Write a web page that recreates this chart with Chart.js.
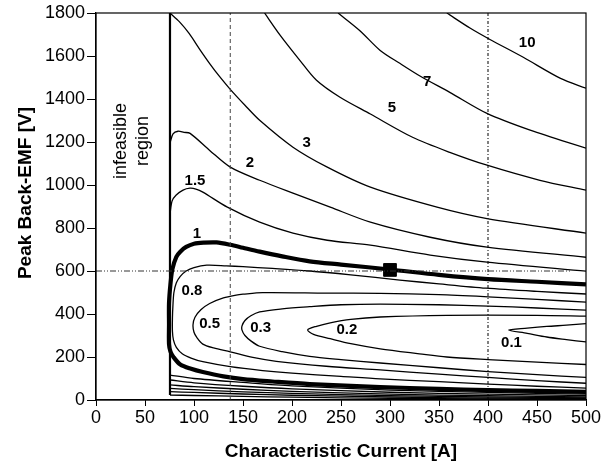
<!DOCTYPE html>
<html>
<head>
<meta charset="utf-8">
<script src="https://cdn.jsdelivr.net/npm/chart.js@4.4.1/dist/chart.umd.min.js"></script>
<style>
html, body { margin: 0; padding: 0; background: #fff; }
</style>
</head>
<body>
<canvas id="chart" width="613" height="468"></canvas>
<script>
// axis ticks
var currentTicks = [0, 50, 100, 150, 200, 250, 300, 350, 400, 450, 500];
var voltageTicks = [0, 200, 400, 600, 800, 1000, 1200, 1400, 1600, 1800];

// feasibility limit, reference lines and design point
var limitCurrent = 75.5;
var limitVoltage = [23, 1800];
var refCurrents = [137, 400];
var refVoltage = 600;
var refVoltageEnd = 485;
var designPoint = [300, 605];

// contours [current, voltage]
var c10 = [[358,1800],[382,1729],[402,1677],[436,1594],[474,1496],[500,1450]];
var c7 = [[247,1800],[269,1719],[290,1626],[310,1566],[331,1506],[361,1431],[399,1333],[443,1255],[500,1171]];
var c5 = [[172,1800],[188,1696],[208,1580],[225,1487],[249,1408],[280,1330],[323,1222],[361,1152],[399,1092],[453,1022],[500,976]];
var c3 = [[75.5,1800],[85,1760],[95,1705],[106,1630],[116,1565],[126,1505],[137,1445],[152,1371],[167,1301],[201,1176],[236,1083],[280,990],[348,897],[399,844],[500,776]];
var c2 = [[75.5,1195],[78.6,1238],[83.7,1250],[89.8,1245],[96,1240],[116,1161],[137,1083],[167,1022],[201,962],[239,897],[280,827],[341,757],[399,711],[500,664]];
var c15 = [[75.5,865],[77.6,925],[81.6,952],[88.8,976],[95.9,985],[102,981],[109,967],[134,897],[167,827],[201,776],[236,743],[280,720],[341,674],[399,641],[500,599]];
var c1 = [[500,538],[450,550],[400,562],[350,582],[300,607],[250,630],[218,645],[190,668],[167,690],[150,708],[137,722],[123,733],[110,732],[100,727],[92,712],[86,690],[82,666],[78,610],[76,540],[74.5,450],[74.5,350],[74.5,260],[76,225],[79,200],[86,165],[97,145],[109,130],[130,110],[150,97],[180,86],[218,74],[290,60],[350,52],[400,46],[450,42],[500,38]];
var c08 = [[500,493],[450,505],[398,520],[350,540],[310,558],[260,582],[218,600],[180,612],[150,620],[133,624],[113,627],[100,616],[92,600],[86,575],[82,545],[79.5,500],[78.5,440],[78,380],[78,320],[79,280],[82,245],[88,215],[97,195],[109,178],[137,155],[170,137],[200,125],[250,110],[290,98],[350,85],[400,74],[450,64],[500,55]];
var c05 = [[500,455],[450,468],[400,480],[350,490],[290,496],[235,497],[170,499],[150,492],[143,488],[130,475],[116,449],[107,420],[101,385],[99,350],[100,315],[103,290],[109,260],[120,242],[137,224],[160,198],[184,180],[235,157],[290,140],[350,120],[400,105],[450,90],[500,78]];
var c03 = [[500,418],[450,428],[400,437],[350,443],[290,446],[250,443],[218,434],[190,424],[167,410],[158,392],[152,370],[149,345],[149,325],[152,300],[158,275],[167,250],[190,225],[218,203],[250,188],[290,172],[350,150],[400,132],[450,118],[500,105]];
var c02 = [[500,390],[450,394],[358,394],[290,386],[260,375],[239,359],[225,343],[216,326],[222,305],[239,285],[260,262],[290,238],[330,215],[358,200],[400,188],[450,176],[500,165]];
var c01 = [[500,355],[480,348],[460,342],[440,334],[421,325],[440,310],[460,293],[480,281],[500,270]];

// lower branches that leave the feasibility limit
var c15low = [[75.5,116],[100,100],[150,82],[200,66],[300,46],[400,35],[500,27]];
var c2low = [[75.5,93],[100,80],[150,64],[200,52],[300,36],[400,27],[500,20]];
var c3low = [[75.5,70],[100,62],[150,50],[200,40],[300,27],[400,20],[500,14]];
var c5low = [[75.5,54],[100,48],[150,38],[200,31],[300,20],[400,14],[500,10]];
var c7low = [[75.5,39],[100,35],[150,28],[200,22],[300,14],[400,9],[500,6]];
var c10low = [[75.5,23],[100,21],[150,17],[200,13],[300,8],[400,5],[500,3]];

// contour labels
var labelText = ['10', '7', '5', '3', '2', '1.5', '1', '0.8', '0.5', '0.3', '0.2', '0.1'];
var labelX = [440, 338, 302, 215, 157, 101, 103, 98, 116, 168, 256, 424];
var labelY = [1660, 1478, 1357, 1194, 1101, 1018, 771, 507, 353, 335, 325, 265];

var FONT = '"Liberation Sans", Arial, sans-serif';

function pts(arr) {
    return arr.map(function(p) { return {x: p[0], y: p[1]}; });
}

function contour(arr, w) {
    return {
        data: pts(arr),
        showLine: true,
        borderColor: '#000',
        borderWidth: w || 1.3,
        pointRadius: 0,
        tension: 0.3,
        fill: false
    };
}

function straight(arr, w, dash, color) {
    return {
        data: pts(arr),
        showLine: true,
        borderColor: color || '#000',
        borderWidth: w,
        borderDash: dash,
        pointRadius: 0,
        tension: 0,
        fill: false
    };
}

var datasets = [
    straight([[refCurrents[0], 0], [refCurrents[0], 1800]], 1, [4, 3], '#444'),
    straight([[refCurrents[1], 0], [refCurrents[1], 1800]], 1, [3, 2, 1, 2]),
    straight([[0, refVoltage], [refVoltageEnd, refVoltage]], 1, [6, 2, 1, 2, 1, 2], '#333'),
    straight([[limitCurrent, limitVoltage[0]], [limitCurrent, limitVoltage[1]]], 2.2, []),
    contour(c10), contour(c7), contour(c5), contour(c3), contour(c2), contour(c15),
    contour(c1, 4.2), contour(c08), contour(c05), contour(c03), contour(c02), contour(c01),
    contour(c15low), contour(c2low), contour(c3low), contour(c5low), contour(c7low), contour(c10low),
    {
        data: [{x: designPoint[0], y: designPoint[1]}],
        showLine: false,
        pointStyle: 'rect',
        pointRadius: 9,
        backgroundColor: '#000',
        borderColor: '#000'
    }
];

var decorPlugin = {
    id: 'decor',
    afterDatasetsDraw: function(chart) {
        var ctx = chart.ctx;
        var xs = chart.scales.x, ys = chart.scales.y;
        var a = chart.chartArea;
        ctx.save();
        // plot box
        ctx.strokeStyle = '#000';
        ctx.lineWidth = 1.2;
        ctx.strokeRect(a.left, a.top, a.right - a.left, a.bottom - a.top);

        // contour labels
        ctx.fillStyle = '#000';
        ctx.font = 'bold 15px ' + FONT;
        ctx.textAlign = 'center';
        ctx.textBaseline = 'middle';
        for (var i = 0; i < labelText.length; i++) {
            ctx.fillText(labelText[i], xs.getPixelForValue(labelX[i]), ys.getPixelForValue(labelY[i]));
        }

        // infeasible region note
        ctx.font = '18px ' + FONT;
        ctx.save();
        ctx.translate(a.left + 25, a.top + 128);
        ctx.rotate(-Math.PI / 2);
        ctx.fillText('infeasible', 0, 0);
        ctx.fillText('region', 0, 22);
        ctx.restore();

        // axis titles
        ctx.font = 'bold 19px ' + FONT;
        ctx.fillText('Characteristic Current [A]', (a.left + a.right) / 2, 452);
        ctx.save();
        ctx.translate(26, 193);
        ctx.rotate(-Math.PI / 2);
        ctx.fillText('Peak Back-EMF [V]', 0, 0);
        ctx.restore();
        ctx.restore();
    }
};

var ctx = document.getElementById('chart');
var chart = new Chart(ctx, {
    type: 'scatter',
    data: { datasets: datasets },
    options: {
        responsive: false,
        animation: false,
        events: [],
        layout: { padding: { top: 13, right: 27, left: 0, bottom: 0 } },
        plugins: {
            legend: { display: false },
            tooltip: { enabled: false }
        },
        scales: {
            x: {
                type: 'linear',
                min: 0,
                max: 500,
                afterBuildTicks: function(s) { s.ticks = currentTicks.map(function(v) { return {value: v}; }); },
                afterFit: function(s) { s.height = 68; },
                grid: { display: true, drawOnChartArea: false, drawTicks: true, tickLength: 6, color: '#000' },
                border: { color: '#000', width: 1.2 },
                ticks: { color: '#000', padding: 1, maxRotation: 0, font: { size: 18, family: FONT },
                         callback: function(v) { return String(v); } }
            },
            y: {
                type: 'linear',
                min: 0,
                max: 1800,
                afterBuildTicks: function(s) { s.ticks = voltageTicks.map(function(v) { return {value: v}; }); },
                afterFit: function(s) { s.width = 96; },
                grid: { display: true, drawOnChartArea: false, drawTicks: true, tickLength: 9, color: '#000' },
                border: { color: '#000', width: 1.2 },
                ticks: { color: '#000', padding: 2, font: { size: 18, family: FONT },
                         callback: function(v) { return String(v); } }
            }
        }
    },
    plugins: [decorPlugin]
});
</script>
</body>
</html>
